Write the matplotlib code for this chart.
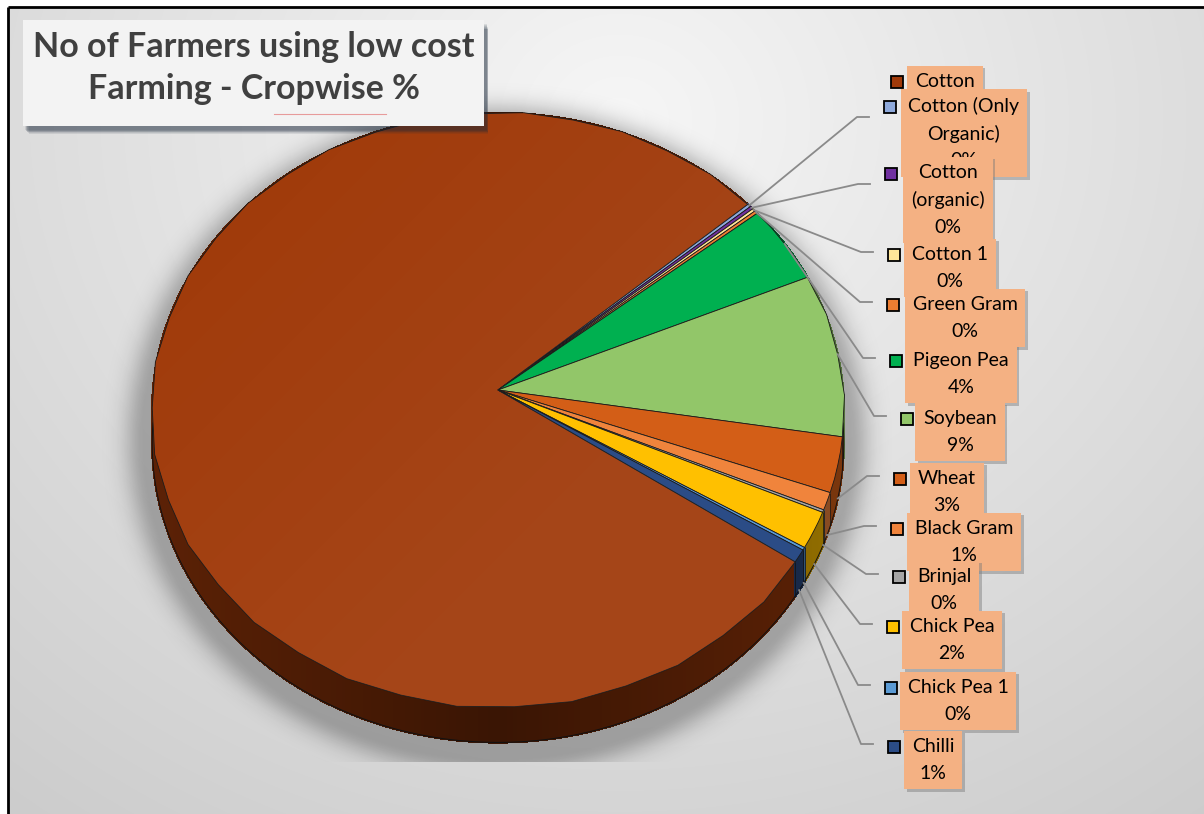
import textwrap
import numpy as np
import matplotlib
matplotlib.use("Agg")
import matplotlib.pyplot as plt
from matplotlib.transforms import Transform
from matplotlib.path import Path
from matplotlib.patches import Rectangle
from matplotlib.collections import PolyCollection, LineCollection
from matplotlib import patheffects as pe
from matplotlib.colors import to_rgb

# ---- data -------------------------------------------------------------
crops = ["Cotton", "Cotton (Only Organic)", "Cotton (organic)", "Cotton 1",
         "Green Gram", "Pigeon Pea", "Soybean", "Wheat", "Black Gram",
         "Brinjal", "Chick Pea", "Chick Pea 1", "Chilli"]
shares = [79.2, 0.17, 0.17, 0.16, 0.17, 4.3, 8.9, 3.0, 0.95, 0.14, 2.0, 0.15, 0.7]
colors = ["#A03A0A", "#8EA9DB", "#7030A0", "#FFE699", "#ED7D31", "#00B050",
          "#92C669", "#D35E17", "#F0843C", "#A5A5A5", "#FFC000", "#5B9BD5",
          "#2B4C86"]
title = "No of Farmers using low cost\nFarming - Cropwise %"

# ---- label layout: (key x, box centre x, box centre y) in pixels -------
label_pos = [(897, 945, 95), (890, 964, 133), (891, 948, 200), (894, 950, 268),
             (893, 965, 318), (896, 961, 374), (907, 960, 432), (900, 947, 492),
             (897, 964, 542), (899, 944, 590), (893, 952, 640), (891, 958, 701),
             (894, 933, 760)]

W, H = 1204, 814
FONT = ["Lato", "DejaVu Sans"]


class DiscView(Transform):
    """Perspective view of a flat unit disc seen from above and in front."""
    input_dims = 2
    output_dims = 2

    def __init__(self, cx, cy, rx, ry, k, drop=0.0):
        super().__init__()
        self.cx, self.cy, self.rx, self.ry, self.k, self.drop = cx, cy, rx, ry, k, drop

    def transform_non_affine(self, values):
        v = np.asarray(values, dtype=float).reshape(-1, 2)
        s = 1.0 / (1.0 + self.k * v[:, 1])
        X = self.cx + self.rx * v[:, 0] * s
        Y = self.cy + (self.drop - self.ry * v[:, 1]) * s
        return np.column_stack([X, Y])

    def transform_path_non_affine(self, path):
        polys = path.to_polygons(closed_only=False)
        verts = np.concatenate(polys)
        return Path(self.transform_non_affine(verts))


CX, CY, RX, RY, K, DEPTH = 498, 390, 345, 295.7, 0.0673, 33
top_view = DiscView(CX, CY, RX, RY, K)
base_view = DiscView(CX, CY, RX, RY, K, DEPTH)

fig = plt.figure(figsize=(W / 100, H / 100), dpi=100)
ax = fig.add_axes([0, 0, 1, 1])

# ---- background ---------------------------------------------------------
yy, xx = np.mgrid[0:H, 0:W] + 0.5
g = np.clip(0.965 - 0.15 * np.hypot((xx - 620) / 900, (yy - 120) / 800), 0, 1)
bg = np.dstack([g, g, g])
bg[:7, :] = 1.0
bg[:, :8] = 1.0
ax.imshow(bg, extent=(0, W, H, 0), zorder=0, interpolation="bilinear")

# soft shadow beneath the pie, clipped at the plot-area bottom
dist = (np.hypot((xx - 497) / 352, (yy - 440) / 318) - 1) * 335
sh = 0.27 * np.exp(-(np.clip(dist, 0, None) / 20) ** 2)
sh[yy > 762] = 0
shadow = np.zeros((H, W, 4))
shadow[..., 3] = sh
ax.imshow(shadow, extent=(0, W, H, 0), zorder=1, interpolation="bilinear")

ax.plot([8, 8], [7, H], color="black", lw=2, zorder=20, solid_capstyle="butt")
ax.plot([8, W], [7, 7], color="black", lw=2, zorder=20, solid_capstyle="butt")

# ---- pie top faces ------------------------------------------------------
wedges, _ = ax.pie(shares, colors=colors, startangle=-34, counterclock=False,
                   wedgeprops=dict(linewidth=0.6, edgecolor="#1a1a1a"))
for w in wedges:
    w.set_transform(top_view + ax.transData)
    w.set_zorder(3)

# gentle lighting across the largest top face
light = np.zeros((H, W, 4))
light[..., :3] = 1.0
light[..., 3] = np.clip(0.05 * ((xx - 200) / 600 + (yy - 150) / 600), 0, 0.06)
lim = ax.imshow(light, extent=(0, W, H, 0), zorder=3.1, interpolation="bilinear")
lim.set_clip_path(wedges[0])

# ---- pie side walls -----------------------------------------------------
quads, qcols, seams = [], [], []
for w, c in zip(wedges, colors):
    t1, t2 = w.theta1, w.theta2
    n = max(2, int(np.ceil((t2 - t1) / 0.5)) + 1)
    phi = np.deg2rad(np.linspace(t1, t2, n))
    rim = np.column_stack([np.cos(phi), np.sin(phi)])
    top = top_view.transform(rim)
    bot = base_view.transform(rim)
    base = np.array(to_rgb(c))
    for j in range(n - 1):
        quads.append([top[j], top[j + 1], bot[j + 1], bot[j]])
        pm = 0.5 * (phi[j] + phi[j + 1])
        f = 0.36 + 0.22 * abs(np.cos(pm))
        qcols.append(base * f)
    if np.sin(phi[0]) < 0:
        seams.append([top[0], bot[0]])

ax.add_collection(PolyCollection(quads, facecolors=qcols, edgecolors=qcols,
                                 linewidths=1.0, antialiaseds=False, zorder=2))
phi = np.deg2rad(np.linspace(180, 360, 400))
rim_bottom = base_view.transform(np.column_stack([np.cos(phi), np.sin(phi)]))
ax.plot(rim_bottom[:, 0], rim_bottom[:, 1], color="#111111", lw=0.7, zorder=2.5)
ax.add_collection(LineCollection(seams, colors="#111111", linewidths=0.5, zorder=2.5))

# ---- data labels with leader lines and legend keys ----------------------
total = sum(shares)
for i, (w, name, c, (kx, bx, by)) in enumerate(zip(wedges, crops, colors, label_pos)):
    pct = round(100 * shares[i] / total)
    text = textwrap.fill(name, 12) + f"\n{pct}%"
    nlines = text.count("\n") + 1
    t = ax.text(bx, by, text, ha="center", va="center", fontsize=14,
                family=FONT, color="black", linespacing=1.66, zorder=6 + i * 0.1,
                bbox=dict(boxstyle="square,pad=0.4", fc="#F4B183", ec="none"))
    t.get_bbox_patch().set_path_effects(
        [pe.withSimplePatchShadow(offset=(2, -2), shadow_rgbFace="#7a7a7a", alpha=0.45),
         pe.Normal()])
    ky = by - 13 * (nlines - 1)
    ax.plot([kx], [ky], marker="s", ms=9, mfc=c, mec="black", mew=1.3,
            zorder=6 + i * 0.1)
    if i == 0:
        continue
    mid = np.deg2rad(0.5 * (w.theta1 + w.theta2))
    ux, uy = np.cos(mid), np.sin(mid)
    view = base_view if uy < 0 else top_view
    sx, sy = view.transform([[ux, uy]])[0]
    ly = by - 16
    ax.plot([sx, kx - 33, kx - 21], [sy, ly, ly], color="#8a8a8a", lw=1.3,
            zorder=4, solid_joinstyle="round")

# ---- title box ---------------------------------------------------------
for j in range(7):
    ax.add_patch(Rectangle((25 + j * 0.6, 24 + j * 0.9), 462 - j * 0.4, 106 - j * 0.3,
                           fc="#1c2a3c", ec="none", alpha=0.1, zorder=8))
ax.add_patch(Rectangle((23, 20), 461, 106, fc="#f3f3f3", ec="none", zorder=9))
ax.text(254, 68, title, ha="center", va="center", fontsize=24.5, fontweight="bold",
        family=FONT, color="#404040", linespacing=1.42, zorder=10)
ax.plot([274, 386], [114, 114], color="#e06060", lw=0.8, alpha=0.6, zorder=10)

ax.set_xlim(0, W)
ax.set_ylim(H, 0)
ax.set_aspect("auto")
ax.axis("off")
fig.savefig("out.png", dpi=100)
